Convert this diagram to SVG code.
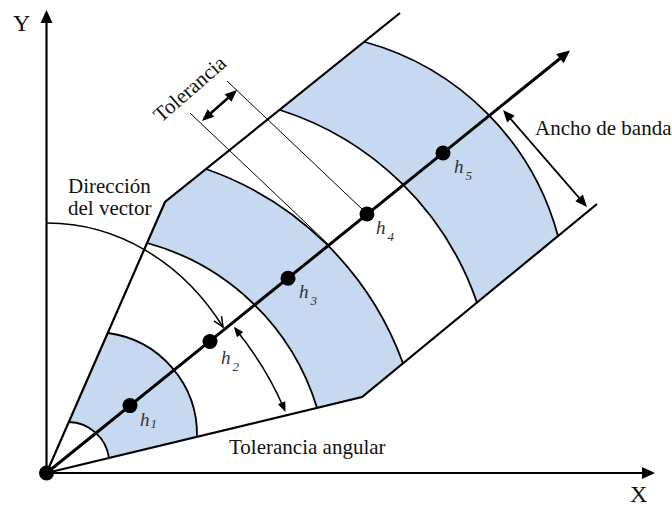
<svg xmlns="http://www.w3.org/2000/svg" width="672" height="508" viewBox="0 0 672 508">
<style>
.fill{fill:#C6D9F1;stroke:none}
.bd{fill:none;stroke:#000;stroke-width:2.2;stroke-linejoin:miter}
.arc{fill:none;stroke:#000;stroke-width:1.8}
.thin{fill:none;stroke:#000;stroke-width:1}
.ax{stroke:#000;stroke-width:2.2;fill:none}
.main{stroke:#000;stroke-width:3;fill:none}
.dot{fill:#000}
.t{font-family:"Liberation Serif","Times New Roman",serif;font-size:21px;fill:#111}
.big{font-family:"Liberation Serif","Times New Roman",serif;font-size:24px;fill:#111}
.h{font-family:"Liberation Serif","Times New Roman",serif;font-style:italic;font-size:19px;fill:#333}
.sub{font-size:13px}
</style>
<defs>
<marker id="mAxis" viewBox="0 0 13 12" refX="9" refY="6" markerWidth="13" markerHeight="12" markerUnits="userSpaceOnUse" orient="auto-start-reverse" overflow="visible"><path d="M0,0 L13,6 L0,12 z" fill="#000"/></marker>
<marker id="mTol" viewBox="0 0 12 10" refX="9" refY="5" markerWidth="12" markerHeight="10" markerUnits="userSpaceOnUse" orient="auto-start-reverse" overflow="visible"><path d="M0,0 L12,5 L0,10 z" fill="#000"/></marker>
<marker id="mSm" viewBox="0 0 10 8" refX="7" refY="4" markerWidth="10" markerHeight="8" markerUnits="userSpaceOnUse" orient="auto-start-reverse" overflow="visible"><path d="M0,0 L10,4 L0,8 z" fill="#000"/></marker>
<marker id="mOpen" viewBox="0 0 10 9" refX="10" refY="4.5" markerWidth="10" markerHeight="9" markerUnits="userSpaceOnUse" orient="auto" overflow="visible"><path d="M0,0 L10,4.5 L0,9" fill="none" stroke="#000" stroke-width="1.5"/></marker>
</defs>

<g id="bands">
<path id="band1" class="fill" d="M68.8,422 A41.6 41.6 0 0 1 109,457.9 L197,436.7 A102.7 102.7 0 0 0 108,333 Z"/>
<path id="band2" class="fill" d="M147,243 A244.8 244.8 0 0 1 317,407.8 L362,397 L403,363.3 A322.9 322.9 0 0 0 206,169 L165,202 Z"/>
<path id="band3" class="fill" d="M280,110 A307 307 0 0 1 477,302.6 L558,236 A276 276 0 0 0 365,42 Z"/>
</g>

<g id="arcs">
<path class="arc" d="M68.8,422 A41.6 41.6 0 0 1 109,457.9"/>
<path class="arc" d="M108,333 A102.7 102.7 0 0 1 197,436.7"/>
<path class="arc" d="M147,243 A244.8 244.8 0 0 1 317,407.8"/>
<path class="arc" d="M206,169 A322.9 322.9 0 0 1 403,363.3"/>
<path class="arc" d="M280,110 A307 307 0 0 1 477,302.6"/>
<path class="arc" d="M365,42 A276 276 0 0 1 558,236"/>
</g>

<g id="boundaries">
<polyline class="bd" points="46.5,473 165,202 400,13"/>
<polyline class="bd" points="46.5,473 362,397 597,204"/>
</g>

<g id="connectors">
<line class="ax" x1="46.5" y1="473" x2="46.5" y2="14" marker-end="url(#mAxis)"/>
<line class="ax" x1="46.5" y1="473" x2="651" y2="473" marker-end="url(#mAxis)"/>
<line class="main" x1="46.5" y1="473" x2="566.9" y2="53" marker-end="url(#mAxis)"/>
<line class="thin" x1="190" y1="113" x2="328" y2="244"/>
<line class="thin" x1="227" y1="81" x2="362" y2="209"/>
<line x1="204.2" y1="119" x2="234.8" y2="92" stroke="#000" stroke-width="2.5" marker-start="url(#mTol)" marker-end="url(#mTol)"/>
<line x1="505" y1="112.3" x2="585" y2="204.7" stroke="#000" stroke-width="1.8" marker-start="url(#mTol)" marker-end="url(#mTol)"/>
<path d="M235.7,329.2 Q266.5,367.2 284.3,409.2" fill="none" stroke="#000" stroke-width="1.5" marker-start="url(#mSm)" marker-end="url(#mSm)"/>
<path d="M46.5,223 A216.8 250 0 0 1 223,327" fill="none" stroke="#000" stroke-width="1.5" marker-end="url(#mOpen)"/>
</g>

<g id="origin"><circle class="dot" cx="46.5" cy="473" r="7.5"/></g>
<g id="h1"><circle class="dot" cx="130" cy="405.6" r="7.5"/><text class="h" x="140" y="425.5">h<tspan class="sub" dx="1" dy="2">1</tspan></text></g>
<g id="h2"><circle class="dot" cx="210" cy="341.5" r="7.5"/><text class="h" x="221" y="364">h<tspan class="sub" dx="2" dy="7">2</tspan></text></g>
<g id="h3"><circle class="dot" cx="288" cy="278.2" r="7.5"/><text class="h" x="299" y="298">h<tspan class="sub" dx="2" dy="7">3</tspan></text></g>
<g id="h4"><circle class="dot" cx="367" cy="214" r="7.5"/><text class="h" x="376" y="234">h<tspan class="sub" dx="2" dy="7">4</tspan></text></g>
<g id="h5"><circle class="dot" cx="443" cy="153" r="7.5"/><text class="h" x="454" y="173">h<tspan class="sub" dx="2" dy="7">5</tspan></text></g>

<g id="labels">
<text class="big" x="13" y="31">Y</text>
<text class="big" x="630" y="502">X</text>
<text class="t" x="68" y="193">Dirección</text>
<text class="t" x="68" y="215">del vector</text>
<text class="t" x="229" y="454">Tolerancia angular</text>
<text class="t" x="535" y="134.5">Ancho de banda</text>
<text class="t" x="161" y="123" transform="rotate(-41 161 123)">Tolerancia</text>
</g>
</svg>
